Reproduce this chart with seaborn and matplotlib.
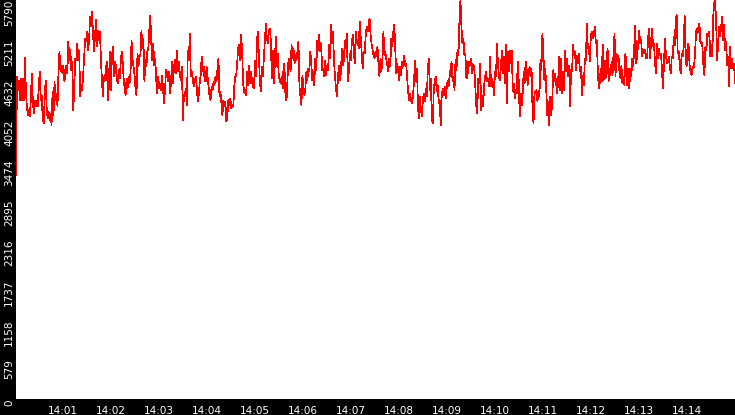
import numpy as np
import pandas as pd
import matplotlib
matplotlib.use("Agg")
import matplotlib.pyplot as plt
import seaborn as sns

part1 = [3249, 4677, 4483, 4628, 4338, 4653, 4338, 4653, 4338, 4957, 4483, 4241, 4120, 4193, 4096,
         4338, 4725, 4338, 4144, 4338, 4241, 4338, 4241, 4532, 4749, 4338, 4411, 4072, 3999, 4338,
         4628, 4241, 4072, 4169, 4048, 4144, 3975, 4459, 4120, 4604, 4338, 4435, 4241, 4749, 5040,
         4749, 4846, 4725, 4846, 4604, 4749, 4846, 4725, 5185, 4919, 5064, 4774, 4895, 4193, 4532,
         4943, 4919, 5161, 4919, 5064, 4387, 4556, 4483, 4701, 4967, 5233, 5185, 5330, 5064, 5209,
         5548, 5403, 5620, 5306, 5040, 5258, 5500, 5112, 5354, 5209, 5330, 4919, 4628, 4387, 4677,
         4628]
part2 = [4798, 4895, 4338, 4532, 5040, 4483, 4919, 5112, 4677, 4895, 4846, 4653, 4580, 4774, 4653,
         4870, 5040, 4895, 4653, 4507, 4411, 4653, 4507, 4677, 4580, 4750, 5209, 4919, 4822, 4700,
         4507, 4411, 5016, 4822, 4991, 4967, 5354, 5088, 5233, 4604, 4919, 4822, 5040, 5100, 5354,
         5558, 5161, 4919, 5161, 4846, 4943, 4628, 4435, 4677, 4507, 4580, 4483, 4701, 4459, 4290,
         4532, 4774, 4725, 4604, 4749, 4435, 4604, 4895, 4580, 4822, 4919, 4725, 5064, 4749, 4895,
         4701, 4628, 4822, 4048, 4411, 4435, 4507, 4265, 5064, 4919, 5306, 4677, 4749, 4653, 4532,
         4600]
part3 = [4677, 4532, 4314, 4411, 4580, 4701, 4967, 4749, 4822, 4628, 4604, 4822, 4677, 4532, 4387,
         4338, 4532, 4483, 4604, 4556, 4677, 4604, 4798, 4943, 4387, 4459, 4290, 4120, 4338, 4241,
         4314, 4024, 4096, 4338, 4266, 4362, 4217, 4266, 4241, 4532, 4677, 4701, 4895, 5088, 5137,
         4919, 5282, 5016, 4580, 4459, 4435, 4411, 4749, 4556, 4846, 4580, 4749, 4604, 4532, 4507,
         4919, 4677, 5209, 5330, 4967, 4580, 4459, 4822, 4677, 4967, 5209, 5451, 5233, 5161, 5354,
         5378, 5209, 4653, 5064, 4580, 4846, 5258, 4822, 5016, 4701, 4628, 4580, 4677, 4507, 4870,
         4749, 4338]
part4 = [4362, 4677, 4943, 4895, 4749, 5137, 4943, 5088, 4870, 4991, 4919, 5040, 5185, 4532, 4387,
         4265, 4701, 4507, 4411, 4507, 4749, 4628, 4798, 4749, 5040, 4870, 4628, 4749, 4556, 4943,
         4774, 5209, 5064, 5282, 5040, 5161, 4774, 4798, 4677, 4919, 4701, 4846, 4774, 5137, 4943,
         5441, 5161, 5330, 4895, 4677, 4507, 4387, 4677, 4846, 4628, 4749, 5088, 4846, 4919, 5209,
         5088, 5306, 4604, 4749, 5016, 4919, 5161, 5282, 5040, 4870, 5330, 5161, 5209, 5088, 5475,
         5258, 5016, 4798, 5040, 5016, 5258, 5403, 5330, 5427, 5524, 5282, 5161, 5064, 4991, 4943,
         5040]
part5 = [4967, 5112, 4870, 4677, 4943, 4749, 4943, 5330, 4991, 5040, 4919, 4846, 4749, 4943, 4822,
         5233, 5112, 5330, 5441, 5088, 4725, 4870, 4749, 4628, 4822, 4701, 4895, 4822, 4991, 4846,
         4870, 4677, 4459, 4338, 4435, 4338, 4290, 4411, 4604, 4919, 4604, 4798, 4241, 4072, 4387,
         4193, 4096, 4362, 4435, 4314, 4507, 4387, 4798, 4943, 4483, 4653, 4072, 3999, 4483, 4628,
         4677, 4459, 4556, 4290, 4338, 3975, 4387, 4507, 4411, 4532, 4362, 4507, 4628, 4532, 4677,
         4798, 4895, 4604, 4677, 4483, 4919, 4774, 5064, 4991, 5500, 5790, 5403, 5161, 5233, 4991,
         5016, 4653]
part6 = [4653, 4895, 4822, 4895, 4943, 4725, 4846, 4822, 4556, 4265, 4144, 4653, 4580, 4870, 4193,
         4411, 4241, 4556, 4677, 4749, 4604, 4653, 4532, 4967, 4532, 4653, 4580, 4411, 4749, 4677,
         5161, 4870, 4677, 4628, 4822, 5064, 4725, 4967, 4580, 5137, 4290, 5040, 4749, 5064, 4870,
         5064, 4459, 4580, 4362, 4483, 4435, 4895, 4628, 4096, 4435, 4265, 4435, 4749, 4580, 4895,
         4798, 4556, 4677, 4822, 4677, 4798, 4193, 3999, 4459, 4435, 4483, 4314, 4483, 4387, 4919,
         4774, 5306, 5016, 4628, 4798, 4435, 4120, 4314, 3975, 4387, 4120, 4362, 4774, 4604, 4725,
         4556]
part7 = [4435, 4628, 4967, 4483, 4943, 4435, 4749, 4483, 5064, 4749, 4943, 4677, 4846, 4241, 4774,
         4749, 5137, 5016, 5040, 4774, 4991, 4870, 5016, 4749, 4822, 4411, 4701, 4556, 4943, 4919,
         5451, 5088, 5112, 4895, 5258, 5330, 5233, 5282, 5403, 5161, 5209, 4822, 4507, 4580, 4798,
         4604, 5137, 4628, 4919, 4653, 4895, 5088, 4604, 4798, 4701, 4895, 4701, 5016, 5306, 4677,
         5016, 4895, 4991, 4749, 4653, 4846, 4580, 4677, 4556, 5016, 4846, 4556, 4798, 4507, 4798,
         4677, 4943, 4822, 5137, 5427, 4870, 5016, 5161, 5354, 5161, 5209, 4967, 5064, 5016, 5064,
         4943]
part8 = [4943, 5233, 5378, 4943, 5185, 5378, 5112, 5161, 4870, 4725, 5161, 4943, 5088, 4991, 5016,
         4798, 4507, 4822, 5233, 5016, 4870, 4895, 4967, 4822, 4725, 4967, 4943, 5258, 5137, 5500,
         5572, 5016, 5040, 4870, 4725, 5016, 4967, 5088, 5572, 4943, 4822, 5161, 5137, 4846, 4749,
         4701, 4822, 4798, 4895, 5161, 5378, 5306, 5403, 5451, 5161, 5185, 5112, 4846, 4701, 5112,
         5064, 5306, 5258, 5330, 4967, 5137, 4967, 5572, 5742, 5790, 5403, 4919, 5209, 5403, 5258,
         5403, 5548, 5209, 5427, 5064, 5185, 4846, 4967, 4532, 5112, 4798, 4943, 4798, 4870, 4580]

values = part1 + part2 + part3 + part4 + part5 + part6 + part7 + part8
start_time = "2024-01-01 14:00:01"
end_time = "2024-01-01 14:15:00"

y_tick_labels = ['0', '579', '1158', '1737', '2316', '2895', '3474', '4052', '4632', '5211', '5790']
x_tick_labels = ['14:01', '14:02', '14:03', '14:04', '14:05', '14:06', '14:07',
                 '14:08', '14:09', '14:10', '14:11', '14:12', '14:13', '14:14']

times = pd.date_range(start_time, end_time, periods=len(values))
df = pd.DataFrame({'time': times, 'value': values})

sns.set_style("white")
plt.rcParams['font.family'] = ['DejaVu Sans']

fig = plt.figure(figsize=(7.35, 4.15), dpi=100, facecolor='black')
ax = fig.add_axes([16 / 735, 16 / 415, 719 / 735, 399 / 415])
ax.set_facecolor('white')

sns.lineplot(x='time', y='value', data=df, ax=ax, color='#ff0000', linewidth=0.5,
             antialiased=False, estimator=None, solid_joinstyle='miter', solid_capstyle='butt')

ax.set_xlim(pd.Timestamp(start_time), pd.Timestamp(end_time))
ax.set_ylim(0, 5790)

ax.set_yticks([int(v) for v in y_tick_labels])
ax.set_yticklabels(y_tick_labels, rotation=90, va='top', ha='center')

x_ticks = [pd.Timestamp("2024-01-01 " + t) for t in x_tick_labels]
ax.set_xticks(x_ticks)
ax.set_xticklabels(x_tick_labels)

ax.tick_params(axis='both', colors='white', labelcolor='white', labelsize=7.5,
               direction='out', length=4, width=1, pad=1)
ax.set_xlabel('')
ax.set_ylabel('')
for s in ax.spines.values():
    s.set_visible(False)

fig.savefig('out.png', dpi=100, facecolor='black')
